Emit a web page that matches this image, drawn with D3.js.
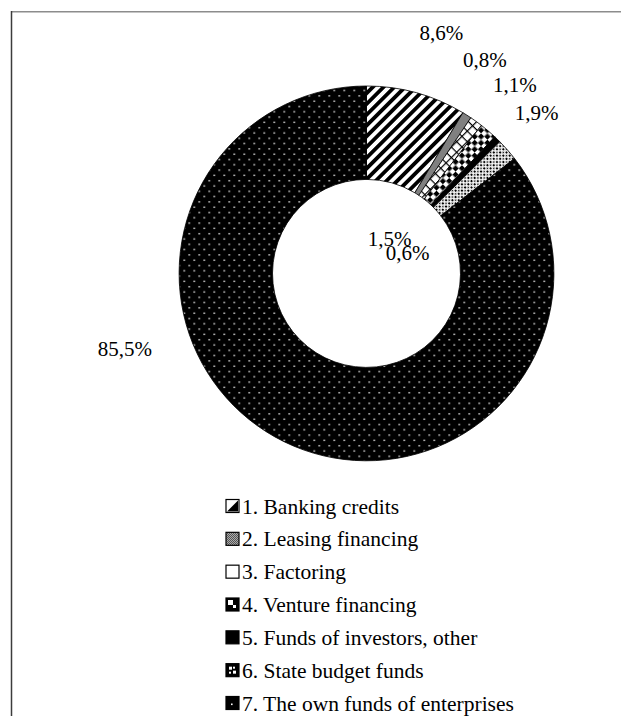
<!DOCTYPE html>
<html lang="en">
  <head>
    <meta charset="utf-8" />
    <script src="https://d3js.org/d3.v7.min.js"></script>
    <style>
      body { margin: 0; background: #fff; }
    </style>
  </head>
  <body>
    <svg id="chart" width="621" height="716"></svg>
    <script>
      // data
      const categories = ["1. Banking credits", "2. Leasing financing", "3. Factoring",
                          "4. Venture financing", "5. Funds of investors, other",
                          "6. State budget funds", "7. The own funds of enterprises"];
      const shares = [8.6, 0.8, 1.1, 1.5, 0.6, 1.9, 85.5];
      const fills = ["url(#pBank)", "url(#pLease)", "url(#pFact)", "url(#pVent)", "#000", "url(#pState)", "url(#pOwn)"];
      // where each percentage label was dragged to (radius from centre, angle shift in degrees)
      const labelRadius = [252, 244, 240, 42, 46, 234, 253];
      const labelShift = [1.8, -3.4, 2.4, -6.9, 19.2, -2.1, 46.7];

      const serif = "'Liberation Serif', 'Times New Roman', 'DejaVu Serif', serif";
      const svg = d3.select("svg#chart");
      const cx = 366.5, cy = 273.4, outerR = 187.4, innerR = 94;

      // chart area frame (only top & left edges fall inside the picture)
      svg.append("line").attr("x1", 11).attr("x2", 621).attr("y1", 11.7).attr("y2", 11.7)
        .attr("stroke", "#8c8c8c").attr("stroke-width", 1.5);
      svg.append("line").attr("x1", 11.5).attr("x2", 11.5).attr("y1", 11).attr("y2", 716)
        .attr("stroke", "#3c3c3c").attr("stroke-width", 1.5);

      const defs = svg.append("defs");
      // 1. wide upward diagonal
      let p = defs.append("pattern").attr("id", "pBank").attr("patternUnits", "userSpaceOnUse")
        .attr("width", 7.6).attr("height", 7.6).attr("patternTransform", "rotate(45)");
      p.append("rect").attr("width", 7.6).attr("height", 7.6).attr("fill", "#fff");
      p.append("rect").attr("width", 3.8).attr("height", 7.6).attr("fill", "#000");
      // 2. fine grid
      p = defs.append("pattern").attr("id", "pLease").attr("patternUnits", "userSpaceOnUse")
        .attr("width", 2).attr("height", 2);
      p.append("rect").attr("width", 2).attr("height", 2).attr("fill", "#fff");
      p.append("rect").attr("width", 1).attr("height", 1).attr("fill", "#000");
      p.append("rect").attr("x", 1).attr("y", 1).attr("width", 1).attr("height", 1).attr("fill", "#000");
      // 3. diagonal cross hatch
      p = defs.append("pattern").attr("id", "pFact").attr("patternUnits", "userSpaceOnUse")
        .attr("width", 7.5).attr("height", 7.5).attr("patternTransform", "rotate(45)");
      p.append("rect").attr("width", 7.5).attr("height", 7.5).attr("fill", "#fff");
      p.append("rect").attr("width", 1.2).attr("height", 7.5).attr("fill", "#000");
      p.append("rect").attr("width", 7.5).attr("height", 1.2).attr("fill", "#000");
      // 4. diamond checkerboard
      p = defs.append("pattern").attr("id", "pVent").attr("patternUnits", "userSpaceOnUse")
        .attr("width", 9).attr("height", 9).attr("patternTransform", "rotate(45)");
      p.append("rect").attr("width", 9).attr("height", 9).attr("fill", "#fff");
      p.append("rect").attr("width", 4.5).attr("height", 4.5).attr("fill", "#000");
      p.append("rect").attr("x", 4.5).attr("y", 4.5).attr("width", 4.5).attr("height", 4.5).attr("fill", "#000");
      // 6. dotted
      p = defs.append("pattern").attr("id", "pState").attr("patternUnits", "userSpaceOnUse")
        .attr("width", 4.5).attr("height", 4.5).attr("patternTransform", "rotate(45)");
      p.append("rect").attr("width", 4.5).attr("height", 4.5).attr("fill", "#fff");
      [[0, 0], [4.5, 0], [0, 4.5], [4.5, 4.5]].forEach(c =>
        p.append("circle").attr("cx", c[0]).attr("cy", c[1]).attr("r", 1.2).attr("fill", "#000"));
      p.append("circle").attr("cx", 2.25).attr("cy", 2.25).attr("r", 0.9).attr("fill", "#000");
      // 7. black with sparse white dots
      p = defs.append("pattern").attr("id", "pOwn").attr("patternUnits", "userSpaceOnUse")
        .attr("width", 10).attr("height", 10.6);
      p.append("rect").attr("width", 10).attr("height", 10.6).attr("fill", "#000");
      p.append("rect").attr("x", 2).attr("y", 2).attr("width", 1.4).attr("height", 1.4).attr("fill", "#fff");
      p.append("rect").attr("x", 7).attr("y", 7.3).attr("width", 1.4).attr("height", 1.4).attr("fill", "#fff");

      const pie = d3.pie().sort(null).value(d => d);
      const arcs = pie(shares);
      const arc = d3.arc().innerRadius(innerR).outerRadius(outerR);

      const ring = svg.append("g").attr("transform", "translate(" + cx + "," + cy + ")");
      ring.selectAll("path.slice")
        .data(arcs)
        .join("path")
        .attr("class", "slice")
        .attr("d", arc)
        .attr("fill", (d, i) => fills[i])
        .attr("stroke", "#000")
        .attr("stroke-width", 0.8);

      const fmt = v => d3.format(".1f")(v).replace(".", ",") + "%";
      ring.selectAll("text.lbl")
        .data(arcs)
        .join("text")
        .attr("class", "lbl")
        .attr("text-anchor", "middle")
        .attr("dy", "0.35em")
        .attr("font-family", serif)
        .attr("font-size", 21)
        .attr("x", (d, i) => labelRadius[i] * Math.sin((d.startAngle + d.endAngle) / 2 + labelShift[i] * Math.PI / 180))
        .attr("y", (d, i) => -labelRadius[i] * Math.cos((d.startAngle + d.endAngle) / 2 + labelShift[i] * Math.PI / 180))
        .text(d => fmt(d.data));

      // legend
      const legendY = d3.scalePoint().domain(categories).range([506, 703]);
      const mx = 226, ms = 13;
      const legend = svg.append("g").attr("id", "legend");
      const item = legend.selectAll("g.item")
        .data(categories)
        .join("g")
        .attr("class", "item")
        .attr("transform", d => "translate(" + mx + "," + (legendY(d) - ms / 2) + ")");

      // small versions of the fills
      item.each(function(d, i) {
        const g = d3.select(this);
        const base = [ "#fff", "url(#pLease)", "#fff", "#000", "#000", "#000", "#000" ][i];
        g.append("rect").attr("width", ms).attr("height", ms).attr("fill", base)
          .attr("stroke", "#000").attr("stroke-width", 1.2);
        if (i === 0) g.append("path").attr("d", "M1," + (ms - 1) + "L" + (ms - 1) + ",1L" + (ms - 1) + "," + (ms - 1) + "Z").attr("fill", "#000");
        if (i === 3) {
          g.append("rect").attr("x", 2).attr("y", 2).attr("width", 5).attr("height", 5).attr("fill", "#fff");
          g.append("rect").attr("x", 7).attr("y", 7).attr("width", 3).attr("height", 3).attr("fill", "#fff");
        }
        if (i === 5) {
          g.append("rect").attr("x", 3).attr("y", 3).attr("width", 3).attr("height", 3).attr("fill", "#fff");
          g.append("rect").attr("x", 7).attr("y", 7).attr("width", 3).attr("height", 3).attr("fill", "#fff");
          g.append("rect").attr("x", 7).attr("y", 3).attr("width", 2).attr("height", 2).attr("fill", "#fff");
          g.append("rect").attr("x", 3).attr("y", 8).attr("width", 2).attr("height", 2).attr("fill", "#fff");
        }
        if (i === 6) g.append("rect").attr("x", 5).attr("y", 7).attr("width", 1.6).attr("height", 1.6).attr("fill", "#fff");
      });

      item.append("text")
        .attr("x", ms + 3)
        .attr("y", ms / 2)
        .attr("dy", "0.35em")
        .attr("font-family", serif)
        .attr("font-size", 21.5)
        .text(d => d);
    </script>
  </body>
</html>
